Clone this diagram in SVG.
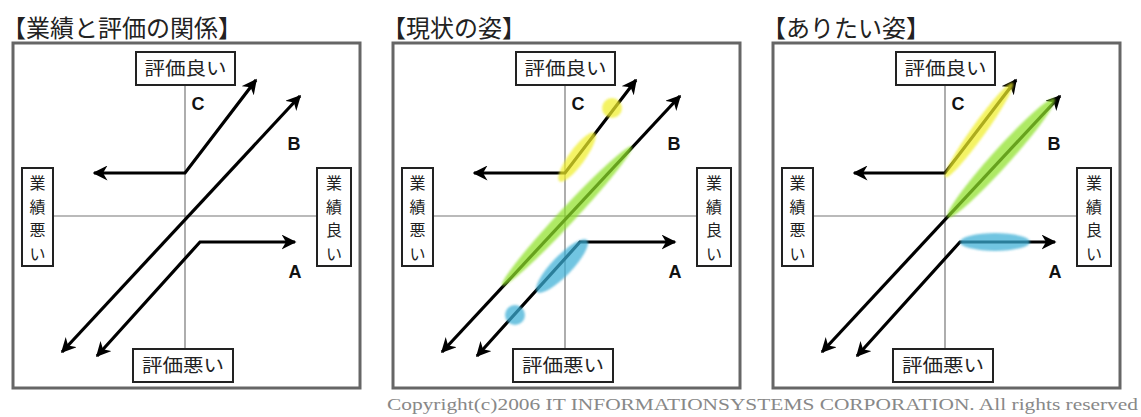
<svg xmlns="http://www.w3.org/2000/svg" width="1141" height="417" viewBox="0 0 1141 417">
<defs>
<style>
.frame{fill:#fff;stroke:#666;stroke-width:3}
.axis{stroke:#777;stroke-width:1.2;fill:none}
.lbl{fill:#fff;stroke:#222;stroke-width:2}
.jp{font-family:"Noto Sans CJK JP","Noto Sans CJK SC",sans-serif;fill:#222}
.lt{font-size:18px;text-anchor:middle}
.vt{font-size:16px;text-anchor:middle}
.ttl{font-size:24px}
.let{font-family:"Liberation Sans",Arial,sans-serif;font-weight:bold;font-size:18px;fill:#111;text-anchor:middle}
.arr{fill:none;stroke:#000;stroke-width:3.2;stroke-linejoin:miter;marker-start:url(#ah);marker-end:url(#ah)}
.copy{font-family:"Liberation Serif","Times New Roman",serif;font-size:17px;fill:#888}
.y{fill:#f0ee2a;opacity:0.72}
.g{fill:#8fe02a;opacity:0.72}
.b{fill:#3aaed6;opacity:0.72}
</style>
<marker id="ah" viewBox="0 0 10 10" refX="9" refY="5" markerWidth="15" markerHeight="15" markerUnits="userSpaceOnUse" orient="auto-start-reverse">
<path d="M0,0 L10,5 L0,10 L3,5 z" fill="#000"/>
</marker>
<filter id="soft" x="-20%" y="-20%" width="140%" height="140%"><feGaussianBlur stdDeviation="1.2"/></filter>
</defs>
<rect width="1141" height="417" fill="#fff"/>

<!-- Panel 1 -->
<g id="panel1">
<text class="jp ttl" x="2" y="37">【業績と評価の関係】</text>
<rect class="frame" x="13" y="43" width="347" height="345"/>
<line class="axis" x1="185" y1="85" x2="185" y2="349"/>
<line class="axis" x1="53" y1="216" x2="317" y2="216"/>
<g id="p1-top"><rect class="lbl" x="136" y="52" width="99" height="33"/><text class="jp lt" x="185.5" y="75" textLength="82" lengthAdjust="spacingAndGlyphs">評価良い</text></g>
<g id="p1-bottom"><rect class="lbl" x="133" y="349" width="100" height="33"/><text class="jp lt" x="183" y="372" textLength="82" lengthAdjust="spacingAndGlyphs">評価悪い</text></g>
<g id="p1-left"><rect class="lbl" x="22" y="168" width="31" height="98"/><text class="jp vt"><tspan x="37.5" y="189">業</tspan><tspan x="37.5" y="212.5">績</tspan><tspan x="37.5" y="236">悪</tspan><tspan x="37.5" y="259.5">い</tspan></text></g>
<g id="p1-right"><rect class="lbl" x="317" y="168" width="34" height="98"/><text class="jp vt"><tspan x="334" y="189">業</tspan><tspan x="334" y="212.5">績</tspan><tspan x="334" y="236">良</tspan><tspan x="334" y="259.5">い</tspan></text></g>
<g id="p1-C"><text class="let" x="198" y="110">C</text></g>
<g id="p1-B"><text class="let" x="294" y="150">B</text></g>
<g id="p1-A"><text class="let" x="295" y="278">A</text></g>
<g id="p1-connectors">
<path class="arr" d="M94,173 L185,173 L256,80"/>
<path class="arr" d="M62,352 L300,96"/>
<path class="arr" d="M97,356 L200,242 L295,242"/>
</g>
</g>

<!-- Panel 2 -->
<g id="panel2" transform="translate(380,0)">
<text class="jp ttl" x="2" y="37">【現状の姿】</text>
<rect class="frame" x="13" y="43" width="347" height="345"/>
<line class="axis" x1="185" y1="85" x2="185" y2="349"/>
<line class="axis" x1="53" y1="216" x2="317" y2="216"/>
<g id="p2-top"><rect class="lbl" x="136" y="52" width="99" height="33"/><text class="jp lt" x="185.5" y="75" textLength="82" lengthAdjust="spacingAndGlyphs">評価良い</text></g>
<g id="p2-bottom"><rect class="lbl" x="133" y="349" width="100" height="33"/><text class="jp lt" x="183" y="372" textLength="82" lengthAdjust="spacingAndGlyphs">評価悪い</text></g>
<g id="p2-left"><rect class="lbl" x="22" y="168" width="31" height="98"/><text class="jp vt"><tspan x="37.5" y="189">業</tspan><tspan x="37.5" y="212.5">績</tspan><tspan x="37.5" y="236">悪</tspan><tspan x="37.5" y="259.5">い</tspan></text></g>
<g id="p2-right"><rect class="lbl" x="317" y="168" width="34" height="98"/><text class="jp vt"><tspan x="334" y="189">業</tspan><tspan x="334" y="212.5">績</tspan><tspan x="334" y="236">良</tspan><tspan x="334" y="259.5">い</tspan></text></g>
<g id="p2-C"><text class="let" x="198" y="110">C</text></g>
<g id="p2-B"><text class="let" x="294" y="150">B</text></g>
<g id="p2-A"><text class="let" x="295" y="278">A</text></g>
<g id="p2-connectors">
<path class="arr" d="M94,173 L185,173 L256,80"/>
<path class="arr" d="M62,352 L300,96"/>
<path class="arr" d="M97,356 L200,242 L295,242"/>
</g>
<g id="p2-highlights" filter="url(#soft)">
<circle class="y" cx="232" cy="108" r="10"/>
<ellipse class="y" cx="197" cy="157" rx="30" ry="8" transform="rotate(-54 197 157)"/>
<ellipse class="g" cx="187" cy="216" rx="95" ry="8" transform="rotate(-47 187 216)"/>
<ellipse class="b" cx="182" cy="266" rx="36" ry="10" transform="rotate(-46 182 266)"/>
<circle class="b" cx="135" cy="315" r="10"/>
</g>
</g>

<!-- Panel 3 -->
<g id="panel3" transform="translate(760,0)">
<text class="jp ttl" x="2" y="37">【ありたい姿】</text>
<rect class="frame" x="13" y="43" width="347" height="345"/>
<line class="axis" x1="185" y1="85" x2="185" y2="349"/>
<line class="axis" x1="53" y1="216" x2="317" y2="216"/>
<g id="p3-top"><rect class="lbl" x="136" y="52" width="99" height="33"/><text class="jp lt" x="185.5" y="75" textLength="82" lengthAdjust="spacingAndGlyphs">評価良い</text></g>
<g id="p3-bottom"><rect class="lbl" x="133" y="349" width="100" height="33"/><text class="jp lt" x="183" y="372" textLength="82" lengthAdjust="spacingAndGlyphs">評価悪い</text></g>
<g id="p3-left"><rect class="lbl" x="22" y="168" width="31" height="98"/><text class="jp vt"><tspan x="37.5" y="189">業</tspan><tspan x="37.5" y="212.5">績</tspan><tspan x="37.5" y="236">悪</tspan><tspan x="37.5" y="259.5">い</tspan></text></g>
<g id="p3-right"><rect class="lbl" x="317" y="168" width="34" height="98"/><text class="jp vt"><tspan x="334" y="189">業</tspan><tspan x="334" y="212.5">績</tspan><tspan x="334" y="236">良</tspan><tspan x="334" y="259.5">い</tspan></text></g>
<g id="p3-C"><text class="let" x="198" y="110">C</text></g>
<g id="p3-B"><text class="let" x="294" y="150">B</text></g>
<g id="p3-A"><text class="let" x="295" y="278">A</text></g>
<g id="p3-connectors">
<path class="arr" d="M94,173 L185,173 L256,80"/>
<path class="arr" d="M62,352 L300,96"/>
<path class="arr" d="M97,356 L200,242 L295,242"/>
</g>
<g id="p3-highlights" filter="url(#soft)">
<ellipse class="y" cx="219" cy="130" rx="58" ry="7" transform="rotate(-54.4 219 130)"/>
<ellipse class="g" cx="241" cy="158" rx="80" ry="9" transform="rotate(-48 241 158)"/>
<ellipse class="b" cx="235" cy="242" rx="35" ry="9"/>
</g>
</g>

<text class="copy" x="387" y="410" textLength="751" lengthAdjust="spacingAndGlyphs">Copyright(c)2006 IT INFORMATIONSYSTEMS CORPORATION. All rights reserved</text>
</svg>
